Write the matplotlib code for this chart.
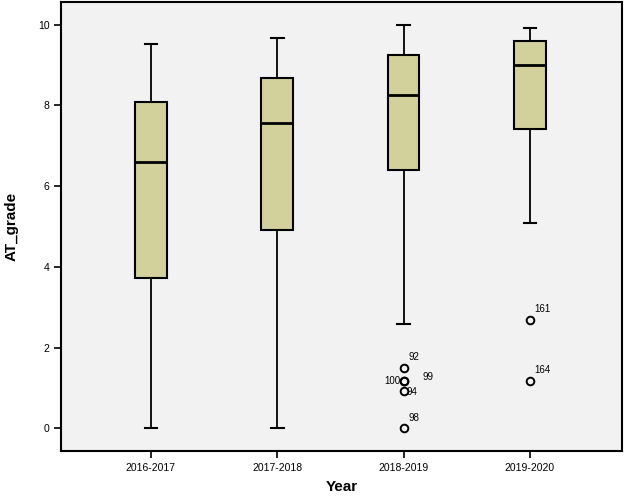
import matplotlib
matplotlib.use('Agg')
import matplotlib.pyplot as plt

plt.rcParams['font.family'] = ['Liberation Sans', 'DejaVu Sans']

# Box plot statistics
years = ['2016-2017', '2017-2018', '2018-2019', '2019-2020']
whislo = [0.0, 0.0, 2.59, 5.10]
q1 = [3.73, 4.92, 6.40, 7.41]
med = [6.61, 7.56, 8.26, 9.00]
q3 = [8.08, 8.68, 9.26, 9.60]
whishi = [9.51, 9.67, 10.0, 9.93]

# Outliers (case number, value) per year
outliers = [
    [],
    [],
    [('92', 1.50), ('100', 1.17), ('99', 1.17), ('94', 0.92), ('98', 0.0)],
    [('161', 2.68), ('164', 1.17)],
]
# label offsets in pixels for each case number
label_off = {
    '92': (5, 11, 'left'), '100': (-3, 0, 'right'), '99': (19, 4, 'left'),
    '94': (3, -1, 'left'), '98': (5, 10, 'left'),
    '161': (4, 11, 'left'), '164': (4, 11, 'left'),
}

stats = []
for i in range(len(years)):
    stats.append({
        'label': years[i], 'whislo': whislo[i], 'q1': q1[i], 'med': med[i],
        'q3': q3[i], 'whishi': whishi[i],
        'fliers': [v for _, v in outliers[i]],
    })

fig = plt.figure(figsize=(6.24, 4.96), dpi=100)
ax = fig.add_axes([0.098, 0.091, 0.899, 0.904])
ax.set_facecolor('#f2f2f2')

pos = list(range(1, len(years) + 1))
ax.bxp(stats, positions=pos, widths=0.25, patch_artist=True, manage_ticks=False,
       boxprops=dict(facecolor='#d3d19b', edgecolor='black', linewidth=1.5),
       medianprops=dict(color='black', linewidth=2),
       whiskerprops=dict(color='black', linewidth=1.3),
       capprops=dict(color='black', linewidth=1.5),
       capwidths=0.1,
       flierprops=dict(marker='o', markersize=5.5, markerfacecolor='none',
                       markeredgecolor='black', markeredgewidth=1.4))

for i, pts in enumerate(outliers):
    for name, v in pts:
        dx, dy, ha = label_off[name]
        ax.annotate(name, (pos[i], v), xytext=(dx, dy), textcoords='offset pixels',
                    ha=ha, va='center', fontsize=7)

ax.set_xlim(0.29, 4.73)
ax.set_ylim(-0.555, 10.55)
ax.set_xticks(pos)
ax.set_xticklabels(years, fontsize=7.5)
ax.set_yticks([0, 2, 4, 6, 8, 10])
ax.tick_params(axis='both', direction='out', length=5, width=1.2, labelsize=7.5)
for s in ax.spines.values():
    s.set_linewidth(1.5)

ax.set_xlabel('Year', fontsize=11, fontweight='bold', labelpad=5)
ax.set_ylabel('AT_grade', fontsize=11, fontweight='bold', labelpad=14)

fig.savefig('out.png', dpi=100)
